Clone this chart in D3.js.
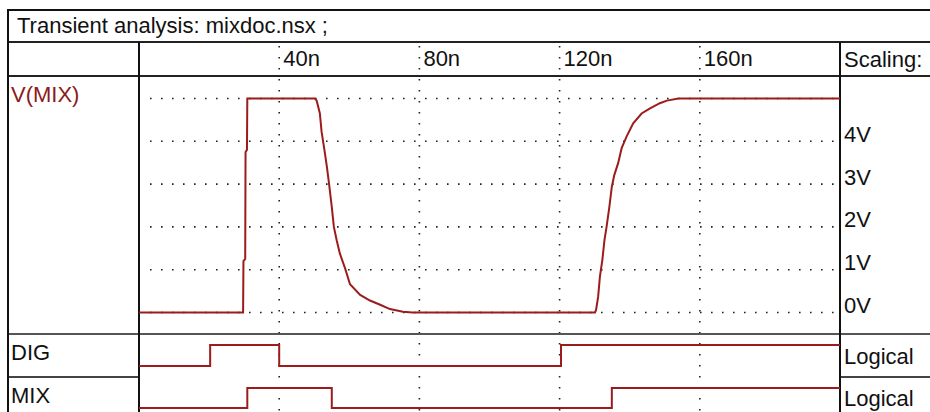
<!DOCTYPE html>
<html>
<head>
<meta charset="utf-8">
<script src="https://cdn.jsdelivr.net/npm/d3@7"></script>
<style>
  html, body { margin: 0; padding: 0; background: #fff; }
  svg { display: block; }
  text { font-family: "Liberation Sans", Arial, sans-serif; font-size: 22px; fill: #111; }
</style>
</head>
<body>
<svg id="chart" width="930" height="412"></svg>
<script>
// Transient analysis of mixdoc.nsx: analog V(MIX) plus digital DIG and MIX traces.
const titleText = "Transient analysis: mixdoc.nsx ;";

// Time axis (ns)
const timeTicks = [40, 80, 120, 160];
const timeTickLabels = ["40n", "80n", "120n", "160n"];

// Voltage axis (V)
const voltGrid = [0, 1, 2, 3, 4, 5];
const voltTicks = [0, 1, 2, 3, 4];
const voltTickLabels = ["0V", "1V", "2V", "3V", "4V"];

// V(MIX) analog waveform: time (ns) and voltage (V)
const vmixTime = [0, 29.7, 29.8, 30.3, 30.4, 30.8, 30.9,
  50.2, 50.7, 51.6, 52.1, 52.9, 53.6, 54.2, 55.0, 55.6, 56.4, 57.3, 58.8, 60.2,
  63.1, 65.9, 68.8, 71.6, 75.3, 78,
  130.1, 130.4, 131.0, 131.5, 132.2, 132.8, 133.4, 134.2, 134.9, 135.6, 136.7,
  137.7, 139.1, 141.0, 143.4, 145.8, 148.6, 150.6, 153.9, 200];
const vmixVolt = [0, 0, 1.2, 1.25, 3.75, 3.8, 5,
  5, 4.95, 4.65, 4.22, 3.8, 3.41, 3.02, 2.47, 2.0, 1.69, 1.38, 1.03, 0.66,
  0.41, 0.28, 0.18, 0.08, 0.02, 0,
  0, 0.06, 0.37, 0.84, 1.23, 1.69, 2.0, 2.47, 2.94, 3.21, 3.49,
  3.84, 4.11, 4.42, 4.65, 4.77, 4.89, 4.95, 5, 5];

// Digital traces: edge times (ns) and logic level after each edge
const digTime = [0, 20.3, 40.0, 120.4, 200];
const digLevel = [0, 1, 0, 1, 1];
const mixTime = [0, 30.9, 55.0, 134.9, 200];
const mixLevel = [0, 1, 0, 1, 1];

const rowLabels = ["V(MIX)", "DIG", "MIX"];
const scaleLabels = ["Scaling:", "Logical", "Logical"];

const W = 930, H = 412;
const svg = d3.select("#chart");

// layout of the table
const edgeL = 8, edgeT = 10, colA = 139, colB = 840;
const rowTitle = 42, rowHead = 76, rowDig = 334, rowMix = 377;

const x = d3.scaleLinear().domain([0, 200]).range([colA, colB]);
const yV = d3.scaleLinear().domain([0, 5]).range([312.5, 98.5]);
const yDig = d3.scaleLinear().domain([0, 1]).range([366, 345]);
const yMix = d3.scaleLinear().domain([0, 1]).range([408, 388]);

const waveColor = "#9b1c1c";
const dotStyle = "1.6 9.4";

// dotted grid: horizontal voltage lines
svg.append("g").selectAll("line").data(voltGrid).join("line")
  .attr("x1", 150).attr("x2", 835)
  .attr("y1", d => yV(d)).attr("y2", d => yV(d))
  .attr("stroke", "#222").attr("stroke-width", 1.6)
  .attr("stroke-dasharray", dotStyle);

// dotted grid: vertical time lines through header and all rows
svg.append("g").selectAll("line").data(timeTicks).join("line")
  .attr("x1", d => x(d)).attr("x2", d => x(d))
  .attr("y1", rowTitle + 4).attr("y2", H)
  .attr("stroke", "#222").attr("stroke-width", 1.6)
  .attr("stroke-dasharray", dotStyle);

// table rules
const rules = svg.append("g").attr("fill", "none");
const hRule = (y, x1, x2, c) => rules.append("line")
  .attr("x1", x1).attr("x2", x2).attr("y1", y).attr("y2", y)
  .attr("stroke", c).attr("stroke-width", 2);
const vRule = (xx, y1, y2, c) => rules.append("line")
  .attr("x1", xx).attr("x2", xx).attr("y1", y1).attr("y2", y2)
  .attr("stroke", c).attr("stroke-width", 2);

hRule(edgeT, edgeL - 1, W, "#111");
hRule(rowTitle, edgeL, W, "#222");
hRule(rowHead, edgeL, W, "#222");
hRule(rowDig, edgeL, W, "#555");
hRule(rowMix, edgeL, colA, "#444");
hRule(rowMix, colB, W, "#444");
vRule(edgeL, edgeT, H, "#111");
vRule(colA, rowTitle, H, "#111");
vRule(colB, rowTitle, H, "#111");

// waveforms
const vLine = d3.line().x(d => x(d[0])).y(d => yV(d[1]));
svg.append("path")
  .datum(vmixTime.map((t, i) => [t, vmixVolt[i]]))
  .attr("d", vLine)
  .attr("fill", "none").attr("stroke", waveColor).attr("stroke-width", 2);

const stepLine = yScale => d3.line().curve(d3.curveStepAfter)
  .x(d => x(d[0])).y(d => yScale(d[1]));
svg.append("path")
  .datum(digTime.map((t, i) => [t, digLevel[i]]))
  .attr("d", stepLine(yDig))
  .attr("fill", "none").attr("stroke", waveColor).attr("stroke-width", 2);
svg.append("path")
  .datum(mixTime.map((t, i) => [t, mixLevel[i]]))
  .attr("d", stepLine(yMix))
  .attr("fill", "none").attr("stroke", waveColor).attr("stroke-width", 2);

// title
svg.append("text").attr("x", 17).attr("y", 33).text(titleText);

// time tick labels in the header row
svg.append("g").selectAll("text").data(timeTicks).join("text")
  .attr("x", d => x(d) + 4).attr("y", 66)
  .text((d, i) => timeTickLabels[i]);

// voltage tick labels in the scaling column
svg.append("g").selectAll("text").data(voltTicks).join("text")
  .attr("x", 844).attr("y", d => yV(d) + 0.5)
  .text((d, i) => voltTickLabels[i]);

// row labels
const rowLabelY = [102, 360, 403];
svg.append("g").selectAll("text").data(rowLabels).join("text")
  .attr("x", 11).attr("y", (d, i) => rowLabelY[i])
  .style("fill", (d, i) => i === 0 ? "#8b1a1a" : "#111")
  .text(d => d);

// scaling column labels
const scaleLabelY = [67, 364, 406];
svg.append("g").selectAll("text").data(scaleLabels).join("text")
  .attr("x", 844).attr("y", (d, i) => scaleLabelY[i])
  .text(d => d);
</script>
</body>
</html>
